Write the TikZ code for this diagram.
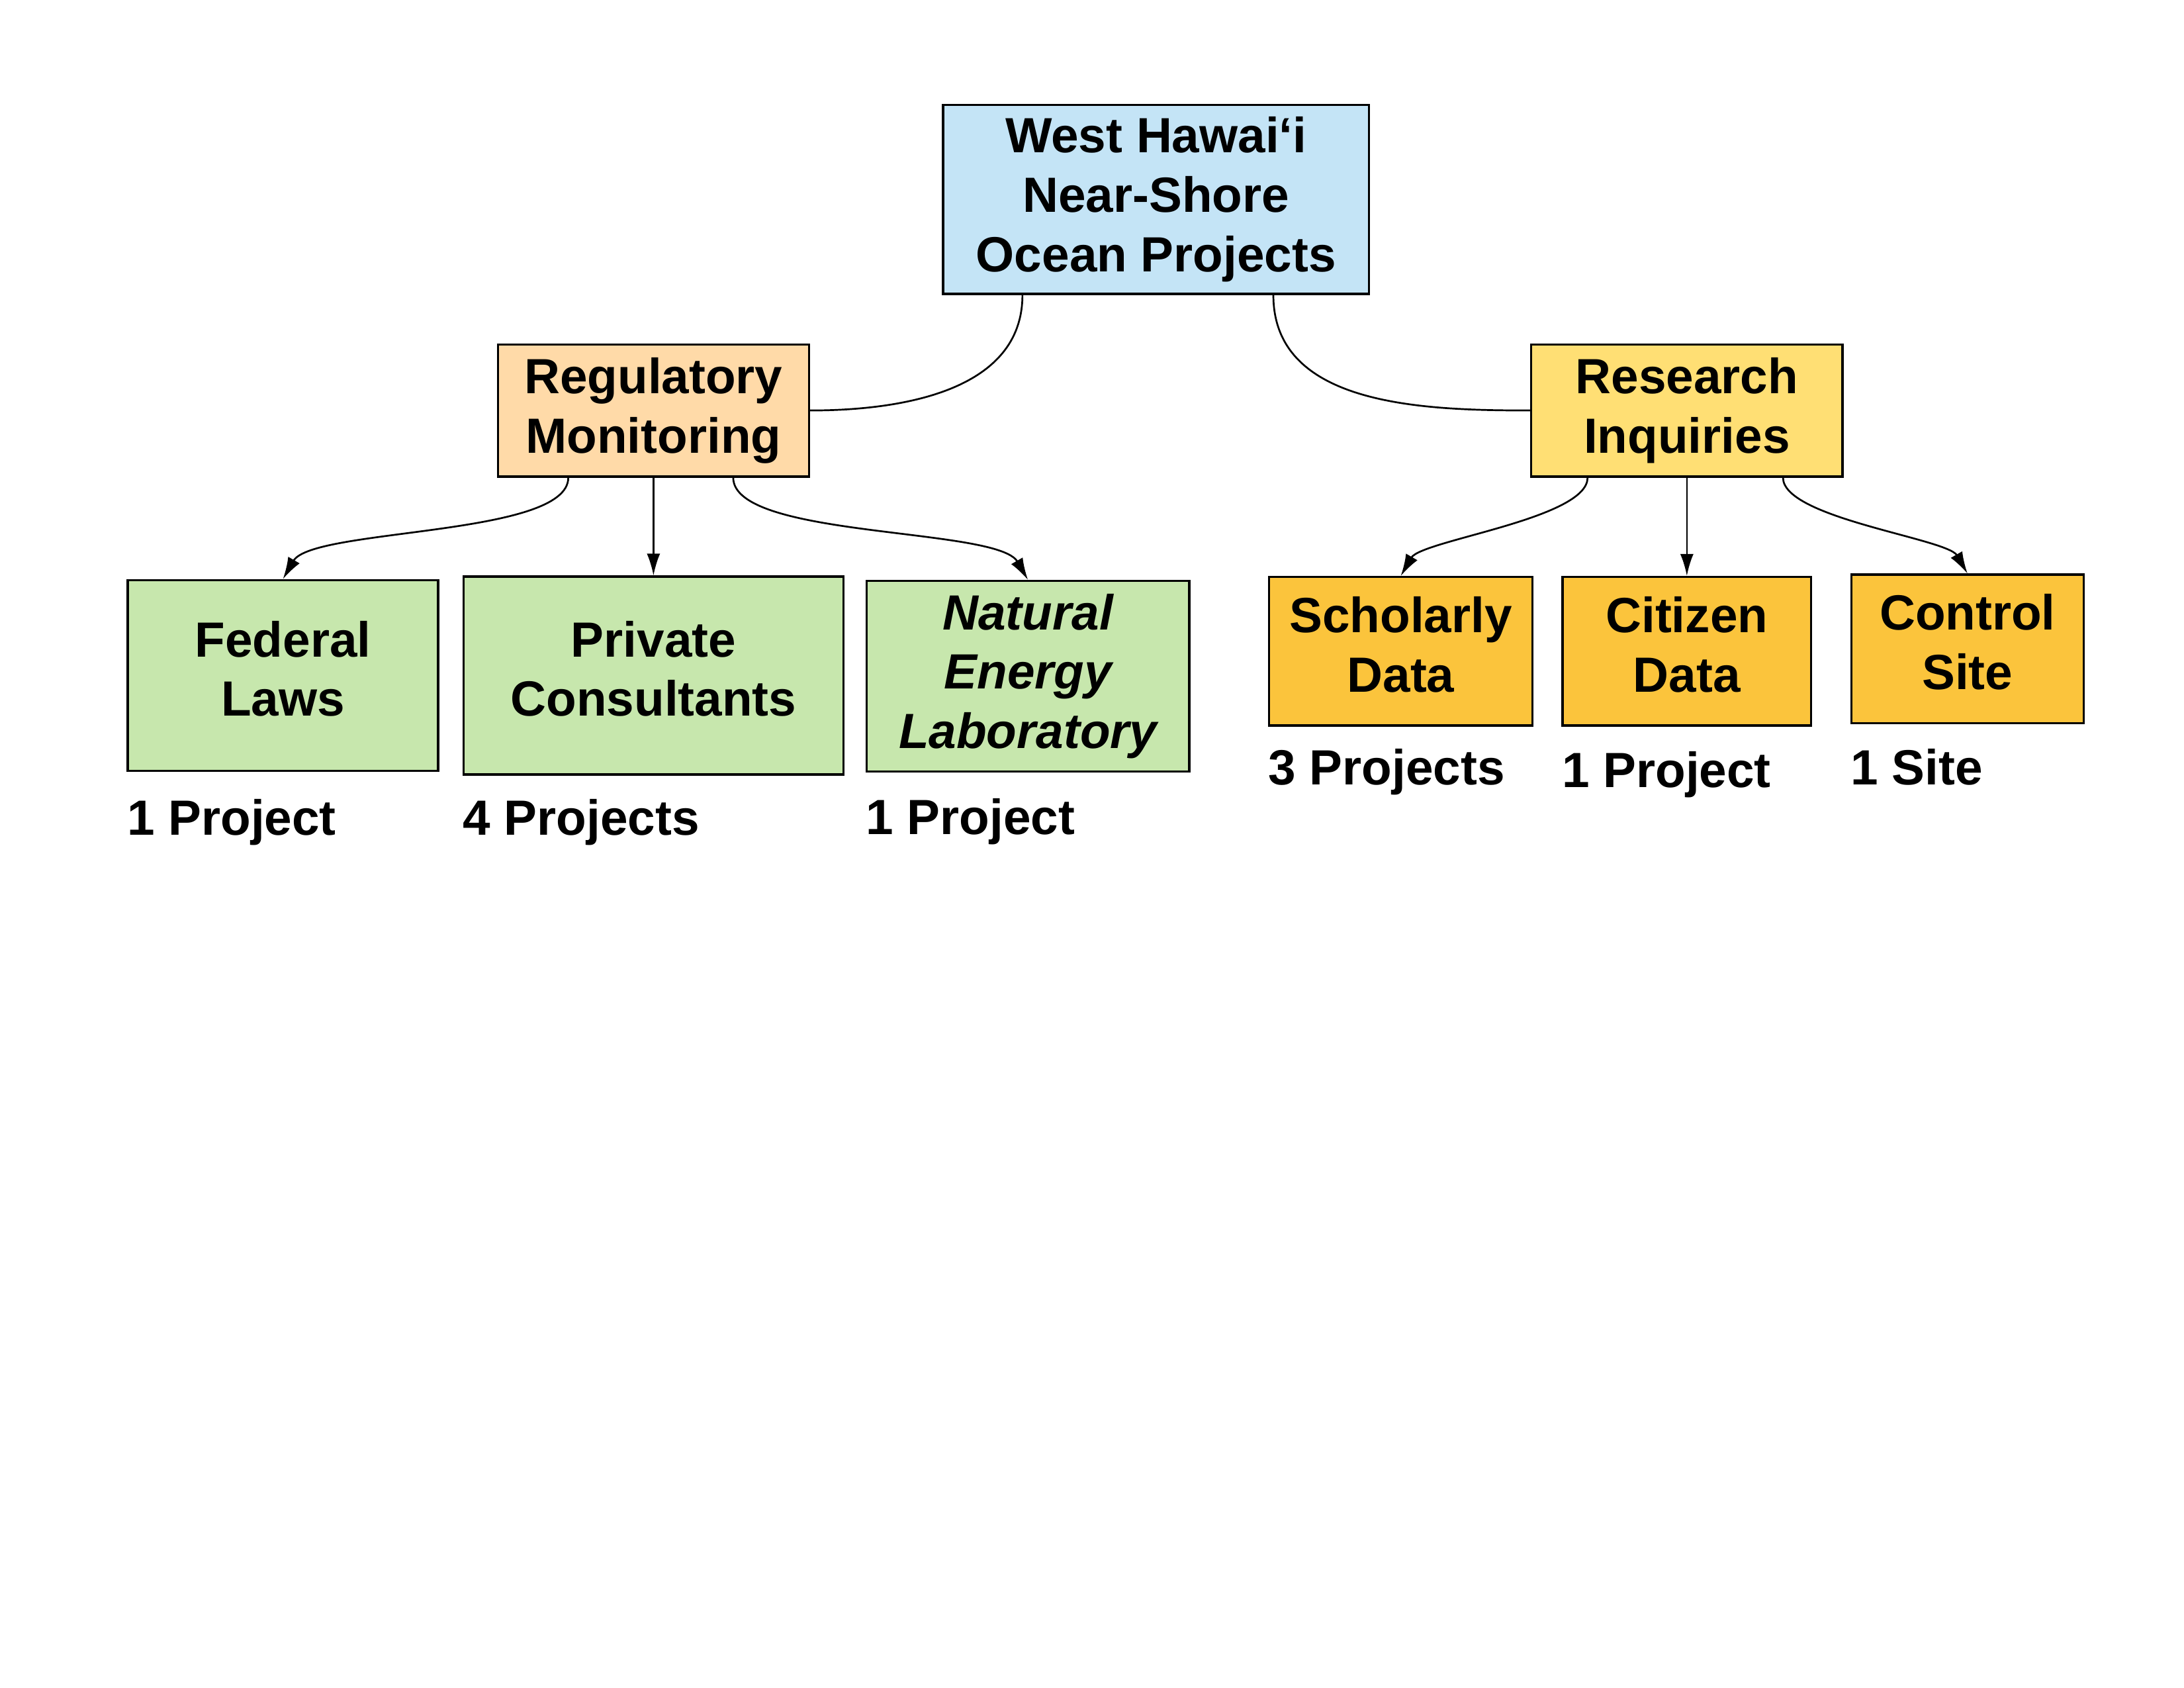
\documentclass[tikz,border=0pt]{standalone}
\usepackage{fontspec}
\setmainfont{Liberation Sans}
\usepackage{tikz}
\usetikzlibrary{positioning,arrows.meta}
\definecolor{skyblue}{RGB}{196,228,246}
\definecolor{peach}{RGB}{255,218,168}
\definecolor{lightgold}{RGB}{255,223,116}
\definecolor{leafgreen}{RGB}{199,231,173}
\definecolor{amber}{RGB}{251,196,60}

\begin{document}
\begin{tikzpicture}[
    box/.style={
        rectangle, draw=black, line width=0.8pt,
        align=center, inner sep=2pt,
        font=\bfseries\fontsize{18}{21.6}\selectfont
    },
    lift/.style={text depth=0.18cm},
    count/.style={
        inner sep=0pt, anchor=north west,
        font=\bfseries\fontsize{18}{21.6}\selectfont
    },
    link/.style={line width=0.65pt, black},
    arrow/.style={-{Latex[length=2.8mm,width=1.7mm]}, line width=0.65pt, black}
]
\useasboundingbox (0,0) rectangle (27.94,-21.59);

\node[box, fill=skyblue, minimum width=5.45cm, minimum height=2.42cm] (ocean) at (14.79,-2.55) {West Hawaiʻi\\Near-Shore\\Ocean Projects};

\node[box, fill=peach, minimum width=3.98cm, minimum height=1.69cm] (regulatory) at (8.36,-5.25) {Regulatory\\Monitoring};
\node[box, fill=lightgold, minimum width=3.98cm, minimum height=1.69cm] (research) at (21.58,-5.25) {Research\\Inquiries};

\node[box, lift, fill=leafgreen, minimum width=3.97cm, minimum height=2.44cm] (federal) at (3.62,-8.64) {Federal\\Laws};
\node[box, lift, fill=leafgreen, minimum width=4.86cm, minimum height=2.53cm] (private) at (8.36,-8.64) {Private\\Consultants};
\node[box, fill=leafgreen, minimum width=4.13cm, minimum height=2.44cm] (nelha) at (13.15,-8.65) {\itshape Natural\\\itshape Energy\\\itshape Laboratory};

\node[box, lift, fill=amber, minimum width=3.37cm, minimum height=1.90cm] (scholarly) at (17.92,-8.33) {Scholarly\\Data};
\node[box, lift, fill=amber, minimum width=3.18cm, minimum height=1.90cm] (citizen) at (21.58,-8.33) {Citizen\\Data};
\node[box, lift, fill=amber, minimum width=2.97cm, minimum height=1.90cm] (control) at (25.17,-8.30) {Control\\Site};

\node[count, below=0.34cm of federal.south west, anchor=north west] (federalcount) {1 Project};
\node[count, below=0.30cm of private.south west, anchor=north west] (privatecount) {4 Projects};
\node[count, below=0.32cm of nelha.south west, anchor=north west] (nelhacount) {1 Project};
\node[count, below=0.28cm of scholarly.south west, anchor=north west] (scholarlycount) {3 Projects};
\node[count, below=0.31cm of citizen.south west, anchor=north west] (citizencount) {1 Project};
\node[count, below=0.31cm of control.south west, anchor=north west] (controlcount) {1 Site};

\draw[link] ([xshift=-1.71cm]ocean.south) to[out=-90,in=0] (regulatory.east);
\draw[link] ([xshift=1.50cm]ocean.south) to[out=-90,in=180] (research.west);

\draw[arrow] ([xshift=-1.09cm]regulatory.south) to[out=-90,in=60,looseness=0.5] (federal.north);
\draw[arrow] (regulatory.south) -- (private.north);
\draw[arrow] ([xshift=1.02cm]regulatory.south) to[out=-90,in=120,looseness=0.5] (nelha.north);

\draw[arrow] ([xshift=-1.27cm]research.south) to[out=-90,in=60,looseness=0.5] (scholarly.north);
\draw[arrow] (research.south) -- (citizen.north);
\draw[arrow] ([xshift=1.23cm]research.south) to[out=-90,in=120,looseness=0.5] (control.north);

\end{tikzpicture}
\end{document}
